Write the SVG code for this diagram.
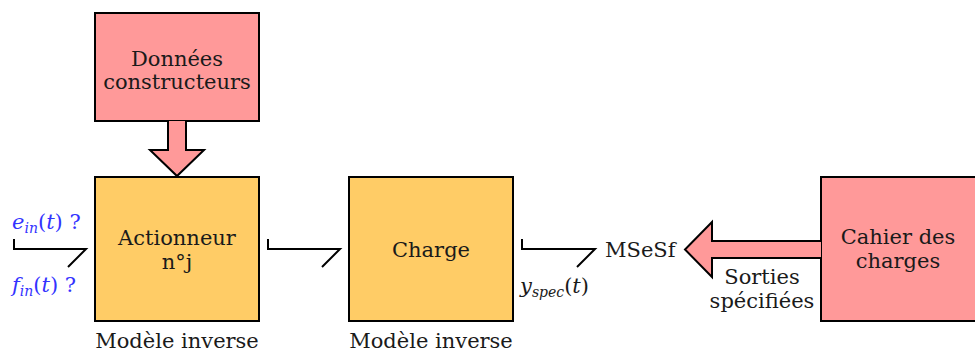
<svg xmlns="http://www.w3.org/2000/svg" width="975" height="352" viewBox="0 0 975 352">
<style>
text{font-family:"DejaVu Serif","Liberation Serif","Noto Serif",serif;font-size:21px;fill:#1a1a1a}
.c{text-anchor:middle}
.blue{fill:#3333ff}
.it{font-style:italic}
.sub{font-size:14px;font-style:italic}
.pink{fill:#ff9999;stroke:#000;stroke-width:2}
.orange{fill:#ffcc66;stroke:#000;stroke-width:2}
.conn{fill:none;stroke:#000;stroke-width:2}
</style>
<rect width="975" height="352" fill="#fff"/>
<g id="donnees">
<rect class="pink" x="95" y="13" width="164" height="108"/>
<text class="c" x="177" y="66">Données</text>
<text class="c" x="177" y="89">constructeurs</text>
</g>
<g id="arrow-down">
<path class="pink" d="M168,121 V150 H150 L177,176 L204,150 H186 V121"/>
</g>
<g id="actionneur">
<rect class="orange" x="95" y="177" width="164" height="144"/>
<text class="c" x="177" y="245">Actionneur</text>
<text class="c" x="177" y="269">n°j</text>
<text class="c" x="177" y="348">Modèle inverse</text>
</g>
<g id="charge">
<rect class="orange" x="349" y="177" width="164" height="144"/>
<text class="c" x="431" y="257">Charge</text>
<text class="c" x="431" y="348">Modèle inverse</text>
</g>
<g id="cahier">
<rect class="pink" x="821" y="177" width="170" height="144"/>
<text class="c" x="898" y="244">Cahier des</text>
<text class="c" x="898" y="268">charges</text>
</g>
<g id="arrow-left">
<path class="pink" d="M821,241 H712 V222 L685,249.5 L712,277 V258 H821"/>
<text class="c" x="762" y="284">Sorties</text>
<text class="c" x="762" y="308">spécifiées</text>
</g>
<g id="msesf">
<text x="605" y="257">MSeSf</text>
</g>
<g id="connectors">
<path class="conn" d="M14,239 V249 H86 L68,267"/>
<path class="conn" d="M268,239 V249 H340 L322,267"/>
<path class="conn" d="M522,239 V249 H595 L577,267"/>
</g>
<g id="labels">
<text class="blue" x="12" y="229"><tspan class="it">e</tspan><tspan class="sub" dy="4">in</tspan><tspan dy="-4">(</tspan><tspan class="it">t</tspan><tspan>) ?</tspan></text>
<text class="blue" x="12" y="292"><tspan class="it">f</tspan><tspan class="sub" dy="4">in</tspan><tspan dy="-4">(</tspan><tspan class="it">t</tspan><tspan>) ?</tspan></text>
<text x="520" y="293"><tspan class="it">y</tspan><tspan class="sub" dy="4">spec</tspan><tspan dy="-4">(</tspan><tspan class="it">t</tspan><tspan>)</tspan></text>
</g>
</svg>
